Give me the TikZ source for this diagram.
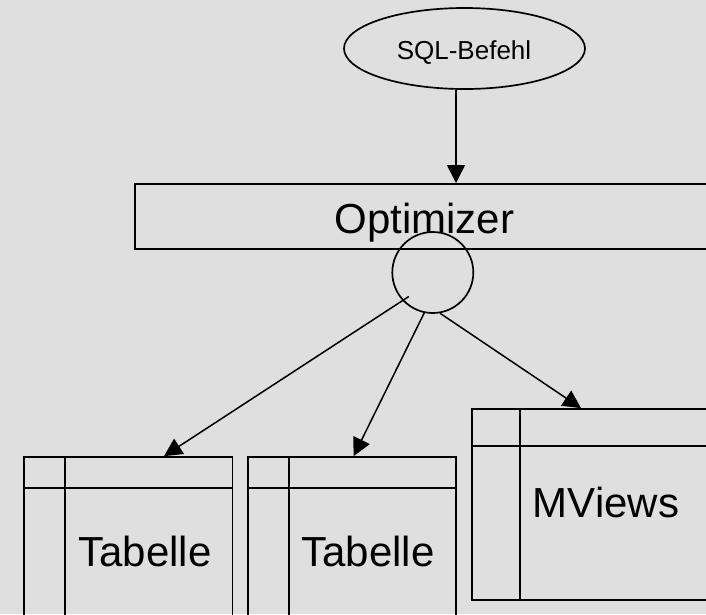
\documentclass[tikz,border=0pt]{standalone}
\usepackage{fontspec}
\setmainfont{Liberation Sans}
\usetikzlibrary{arrows.meta,shapes.geometric}
\definecolor{bg}{RGB}{223,223,223}
\tikzset{
  box/.style={draw=black,line width=1.7pt,inner sep=0pt},
  sep/.style={line width=1.7pt},
  arr/.style={draw=black,line width=1.5pt,-{Triangle[length=18pt,width=18pt]}},
  bigtxt/.style={font=\fontsize{42}{50}\selectfont,anchor=base,inner sep=0pt},
  smalltxt/.style={font=\fontsize{26}{31}\selectfont,anchor=base,inner sep=0pt},
}
\begin{document}
\begin{tikzpicture}[x=1pt,y=-1pt]
\useasboundingbox (0,0) rectangle (706,614);
\clip (0,0) rectangle (706,614);
\fill[bg] (0,0) rectangle (706,614);
% SQL ellipse
\node[box,ellipse,minimum width=241pt,minimum height=81pt] (sql) at (464.5,48.5) {};
\node[smalltxt] (sqlt) at (464,59.3) {SQL-Befehl};
% Optimizer
\node[box,rectangle,line width=2pt,minimum width=578pt,minimum height=65pt] (opt) at (424,216.5) {};
\node[bigtxt] (optt) at (424.5,233) {Optimizer};
% hub circle
\node[box,circle,minimum size=81pt] (hub) at (432.8,272.5) {};
% tables
\node[box,rectangle,minimum width=208.5pt,minimum height=170pt] (t1) at (128.25,542) {};
\draw[sep] (65.3,457) -- (65.3,627) (24,488) -- (232.5,488);
\node[bigtxt] (t1t) at (145,566.7) {Tabelle};
\node[box,rectangle,minimum width=208pt,minimum height=170pt] (t2) at (352,542) {};
\draw[sep] (289,457) -- (289,627) (248,488) -- (456,488);
\node[bigtxt] (t2t) at (368,566.7) {Tabelle};
\node[box,rectangle,minimum width=248pt,minimum height=191pt] (t3) at (596,504.5) {};
\draw[sep] (520,409) -- (520,600) (472,446.3) -- (720,446.3);
\node[bigtxt] (t3t) at (606,517.3) {MViews};
% arrows
\draw[arr] ([xshift=-8.5pt]sql.south) -- ([xshift=-8.5pt]sql.south |- opt.north);
\draw[arr] ([shift={(-24,24)}]hub.center) -- ([xshift=35.75pt]t1.north);
\draw[arr] (hub.-102) -- ([xshift=1.6pt]t2.north);
\draw[arr] (hub.-80) -- ([xshift=-15pt]t3.north);
\end{tikzpicture}
\end{document}
